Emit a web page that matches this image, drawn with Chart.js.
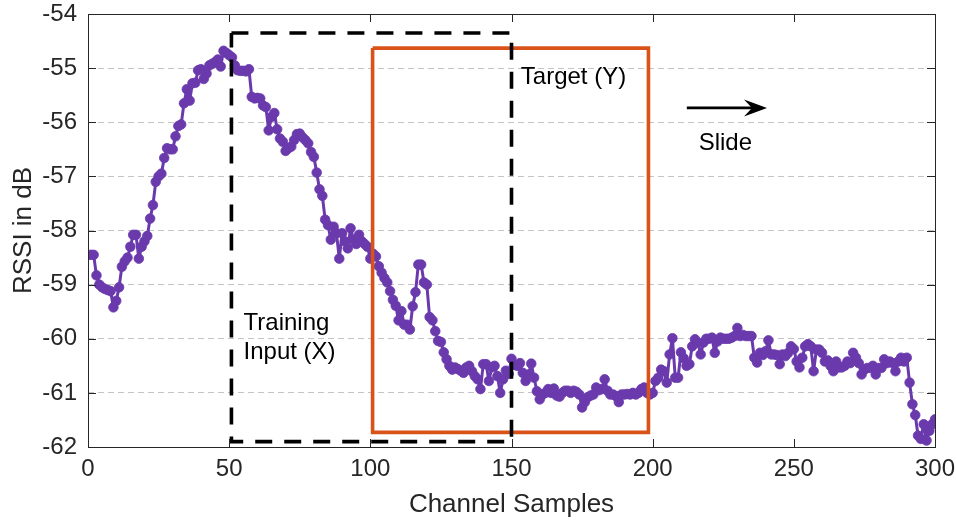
<!DOCTYPE html>
<html>
<head>
<meta charset="utf-8">
<script src="https://cdn.jsdelivr.net/npm/chart.js@4"></script>
<style>
  html, body { margin: 0; padding: 0; background: #ffffff; }
  #wrap { width: 956px; height: 525px; }
</style>
</head>
<body>
<div id="wrap"><canvas id="c" width="956" height="525"></canvas></div>
<script>
// RSSI per channel sample, 1..300
const rssi = [
  -58.45,-58.45,-58.83,-59.0,-59.05,-59.08,-59.1,-59.12,-59.42,-59.3,
  -59.05,-58.67,-58.57,-58.5,-58.3,-58.08,-58.08,-58.52,-58.3,-58.2,
  -58.1,-57.78,-57.53,-57.1,-57.0,-56.95,-56.66,-56.48,-56.5,-56.5,
  -56.26,-56.07,-56.04,-55.65,-55.39,-55.6,-55.28,-55.27,-55.04,-55.02,
  -55.2,-55.1,-54.95,-54.92,-54.89,-54.84,-54.97,-54.68,-54.72,-54.76,
  -54.8,-54.95,-55.04,-55.05,-55.05,-55.06,-55.02,-55.53,-55.56,-55.55,
  -55.56,-55.69,-55.72,-56.15,-55.9,-55.83,-56.13,-56.3,-56.36,-56.53,
  -56.48,-56.45,-56.33,-56.22,-56.21,-56.28,-56.33,-56.39,-56.55,-56.64,
  -56.93,-57.24,-57.36,-57.8,-57.9,-58.17,-57.93,-58.05,-58.52,-58.05,
  -58.2,-58.33,-57.96,-58.17,-58.25,-58.08,-58.2,-58.25,-58.3,-58.52,
  -58.43,-58.48,-58.66,-58.78,-58.88,-58.96,-59.12,-59.28,-59.39,-59.66,
  -59.49,-59.74,-59.74,-59.83,-59.4,-59.14,-58.63,-58.63,-58.96,-59.0,
  -59.6,-59.66,-59.86,-60.04,-60.06,-60.25,-60.38,-60.5,-60.57,-60.53,
  -60.56,-60.59,-60.63,-60.53,-60.5,-60.6,-60.69,-60.75,-60.93,-60.47,
  -60.47,-60.78,-60.53,-60.5,-60.69,-61.0,-60.75,-60.59,-60.65,-60.37,
  -60.48,-60.5,-60.45,-60.63,-60.78,-60.66,-60.46,-60.72,-60.97,-61.12,
  -61.03,-61.0,-60.93,-61.0,-60.92,-61.05,-61.07,-61.0,-60.96,-60.96,
  -61.0,-60.96,-60.98,-61.03,-61.27,-61.17,-61.08,-61.05,-61.03,-60.9,
  -60.95,-60.93,-60.75,-60.96,-61.03,-61.03,-61.06,-61.17,-61.03,-61.03,
  -61.02,-61.03,-61.0,-61.03,-61.0,-60.93,-60.9,-61.0,-61.03,-61.0,
  -60.78,-60.72,-60.57,-60.6,-60.81,-60.29,-59.99,-60.72,-60.72,-60.25,
  -60.36,-60.5,-60.47,-60.14,-60.01,-60.07,-60.29,-60.07,-60.0,-60.0,
  -59.98,-60.26,-60.05,-59.98,-60.0,-60.0,-60.0,-59.98,-59.95,-59.8,
  -59.95,-59.93,-59.95,-59.95,-59.95,-60.35,-60.44,-60.26,-60.3,-60.23,
  -60.03,-60.29,-60.29,-60.3,-60.47,-60.29,-60.32,-60.26,-60.14,-60.19,
  -60.42,-60.53,-60.35,-60.14,-60.1,-60.14,-60.6,-60.2,-60.2,-60.26,
  -60.42,-60.4,-60.5,-60.6,-60.42,-60.53,-60.53,-60.5,-60.42,-60.45,
  -60.26,-60.35,-60.45,-60.66,-60.57,-60.54,-60.54,-60.5,-60.66,-60.54,
  -60.54,-60.38,-60.45,-60.42,-60.45,-60.6,-60.42,-60.35,-60.42,-60.35,
  -60.81,-61.21,-61.41,-61.79,-61.85,-61.58,-61.88,-61.7,-61.58,-61.49
];
const samples = rssi.map((_, i) => i + 1);

// axis ticks
const xTicks = [0, 50, 100, 150, 200, 250, 300];
const yTicks = [-62, -61, -60, -59, -58, -57, -56, -55, -54];

// window corners in data units: [xStart, xEnd, yTop, yBottom]
const trainWindow = [50.8, 150, -54.35, -61.9];
const targetWindow = [100.8, 198.5, -54.63, -61.73];

// direction arrow (data units): [xStart, xEnd, y]
const slideArrow = [212.1, 240.5, -55.735];

// text annotations: [text, x, baseline y]
const notes = [
  ['Target (Y)', 153.3, -55.29],
  ['Slide', 216.3, -56.51],
  ['Training', 55.1, -59.83],
  ['Input (X)', 55.1, -60.38]
];

const FONT = "'Liberation Sans', Arial, Helvetica, sans-serif";
const INK = '#262626';

function rectPath(w) {
  return [
    {x: w[0], y: w[2]}, {x: w[1], y: w[2]}, {x: w[1], y: w[3]},
    {x: w[0], y: w[3]}, {x: w[0], y: w[2]}
  ];
}

const framePlugin = {
  id: 'frame',
  afterDatasetsDraw(chart) {
    const ctx = chart.ctx;
    const xs = chart.scales.x, ys = chart.scales.y;
    const a = chart.chartArea;
    ctx.save();
    // axes box
    ctx.strokeStyle = INK;
    ctx.lineWidth = 1;
    ctx.setLineDash([]);
    ctx.strokeRect(Math.round(a.left) + 0.5, Math.round(a.top) + 0.5,
                   Math.round(a.right - a.left), Math.round(a.bottom - a.top));
    // inward tick marks
    const tl = 8;
    ctx.beginPath();
    xTicks.forEach(v => {
      const px = Math.round(xs.getPixelForValue(v)) + 0.5;
      ctx.moveTo(px, a.bottom); ctx.lineTo(px, a.bottom - tl);
      ctx.moveTo(px, a.top); ctx.lineTo(px, a.top + tl);
    });
    yTicks.forEach(v => {
      const py = Math.round(ys.getPixelForValue(v)) + 0.5;
      ctx.moveTo(a.left, py); ctx.lineTo(a.left + tl, py);
      ctx.moveTo(a.right, py); ctx.lineTo(a.right - tl, py);
    });
    ctx.stroke();

    // arrow
    const x0 = xs.getPixelForValue(slideArrow[0]);
    const x1 = xs.getPixelForValue(slideArrow[1]);
    const ay = ys.getPixelForValue(slideArrow[2]);
    ctx.fillStyle = '#000';
    ctx.strokeStyle = '#000';
    ctx.lineWidth = 2.6;
    ctx.beginPath();
    ctx.moveTo(x0, ay); ctx.lineTo(x1 - 14, ay);
    ctx.stroke();
    ctx.beginPath();
    ctx.moveTo(x1, ay);
    ctx.lineTo(x1 - 23, ay - 8.5);
    ctx.lineTo(x1 - 15, ay);
    ctx.lineTo(x1 - 23, ay + 8.5);
    ctx.closePath();
    ctx.fill();

    // annotation text
    ctx.fillStyle = '#000';
    ctx.font = '24px ' + FONT;
    ctx.textAlign = 'left';
    ctx.textBaseline = 'alphabetic';
    notes.forEach(n => {
      ctx.fillText(n[0], xs.getPixelForValue(n[1]), ys.getPixelForValue(n[2]));
    });
    ctx.restore();
  }
};

new Chart(document.getElementById('c'), {
  type: 'line',
  data: {
    datasets: [
      {
        label: 'Training Input (X)',
        data: rectPath(trainWindow),
        borderColor: '#000000',
        borderWidth: 3.6,
        borderDash: [17, 12],
        pointRadius: 0,
        fill: false,
        tension: 0,
        order: 0
      },
      {
        label: 'Target (Y)',
        data: rectPath(targetWindow),
        borderColor: '#D95319',
        borderWidth: 3.6,
        pointRadius: 0,
        fill: false,
        tension: 0,
        order: 0
      },
      {
        label: 'RSSI',
        data: samples.map((s, i) => ({x: s, y: rssi[i]})),
        borderColor: '#6a3aad',
        backgroundColor: '#6a3aad',
        borderWidth: 3,
        borderJoinStyle: 'round',
        borderCapStyle: 'round',
        pointRadius: 4.8,
        pointBorderWidth: 0.8,
        pointBackgroundColor: '#6a3aad',
        pointBorderColor: '#6a3aad',
        fill: false,
        tension: 0,
        order: 1
      }
    ]
  },
  options: {
    responsive: false,
    animation: false,
    events: [],
    layout: { padding: { left: 0, right: 21, top: 14, bottom: 0 } },
    plugins: { legend: { display: false }, tooltip: { enabled: false } },
    scales: {
      x: {
        type: 'linear',
        min: 0, max: 300,
        afterFit: s => { s.height = 78; s.paddingLeft = 0; s.paddingRight = 0; },
        afterBuildTicks: s => { s.ticks = xTicks.map(v => ({value: v})); },
        grid: { display: false, drawTicks: false },
        border: { display: false },
        ticks: {
          color: INK, padding: 8, maxRotation: 0, autoSkip: false,
          font: { family: FONT, size: 24 }
        },
        title: {
          display: true, text: 'Channel Samples', color: INK,
          font: { family: FONT, size: 26 }, padding: { top: 0, bottom: 5 }
        }
      },
      y: {
        type: 'linear',
        min: -62, max: -54,
        afterFit: s => { s.width = 88; s.paddingTop = 0; s.paddingBottom = 0; },
        afterBuildTicks: s => { s.ticks = yTicks.map(v => ({value: v})); },
        grid: {
          drawTicks: false,
          lineWidth: 1,
          color: c => (c.tick && (c.tick.value === -62 || c.tick.value === -54)) ? 'rgba(0,0,0,0)' : '#c4c4c4'
        },
        border: { display: false, dash: [6, 4] },
        ticks: {
          color: INK, padding: 11, autoSkip: false,
          font: { family: FONT, size: 24 }
        },
        title: {
          display: true, text: 'RSSI in dB', color: INK,
          font: { family: FONT, size: 26 }, padding: { top: 8, bottom: 0 }
        }
      }
    }
  },
  plugins: [framePlugin]
});
</script>
</body>
</html>
